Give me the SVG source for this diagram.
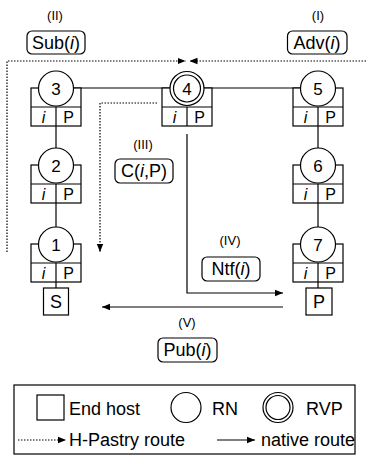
<svg xmlns="http://www.w3.org/2000/svg" width="366" height="458" viewBox="0 0 366 458">
<defs>
<style>
text{font-family:"Liberation Sans",Arial,sans-serif;fill:#000}
.ln{stroke:#000;stroke-width:1.2;fill:none}
.dot{stroke:#000;stroke-width:1.2;fill:none;stroke-dasharray:1.5 1.5}
.bx{stroke:#000;stroke-width:1.2;fill:#fff}
.num{font-size:17px;text-anchor:middle}
.cell{font-size:16px;text-anchor:middle}
.lab{font-size:18px;text-anchor:middle}
.sm{font-size:13px;text-anchor:middle}
.leg{font-size:18px}
</style>
<marker id="ah" viewBox="0 0 8 8" refX="8" refY="4" markerWidth="8" markerHeight="8" markerUnits="userSpaceOnUse" orient="auto">
<path d="M0,0.8 L8,4 L0,7.2 Z" fill="#000"/>
</marker>
<g id="nodeshape">
<rect class="bx" x="-25" y="0" width="50" height="38"/>
<line class="ln" x1="-25" y1="19" x2="25" y2="19"/>
<line class="ln" x1="0" y1="19" x2="0" y2="38"/>
<circle class="bx" cx="0" cy="0.5" r="17.5"/>
<text class="cell" x="-12.5" y="34.5" font-style="italic">i</text>
<text class="cell" x="12.5" y="34.5">P</text>
</g>
</defs>
<rect width="366" height="458" fill="#fff"/>
<g id="connectors">
<line class="ln" x1="56" y1="88" x2="318" y2="88"/>
<line class="ln" x1="56" y1="107" x2="56" y2="288"/>
<line class="ln" x1="318" y1="107" x2="318" y2="288"/>
<path class="dot" d="M7,252 V61 H185.5" marker-end="url(#ah)"/>
<path class="dot" d="M366,61 H189.5" marker-end="url(#ah)"/>
<path class="dot" d="M157,103 H100 V252" marker-end="url(#ah)"/>
<path class="ln" d="M187,134 V293 H283" marker-end="url(#ah)"/>
<path class="ln" d="M283,307 H102" marker-end="url(#ah)"/>
</g>
<g id="node3" transform="translate(56,88)"><use href="#nodeshape"/><text class="num" x="0" y="7">3</text></g>
<g id="node4" transform="translate(187,88)">
<rect class="bx" x="-25" y="0" width="50" height="38"/>
<line class="ln" x1="-25" y1="19" x2="25" y2="19"/>
<line class="ln" x1="0" y1="19" x2="0" y2="38"/>
<circle class="bx" cx="0" cy="0.5" r="17"/>
<circle class="bx" cx="0" cy="0.5" r="13.5"/>
<text class="cell" x="-12.5" y="34.5" font-style="italic">i</text>
<text class="cell" x="12.5" y="34.5">P</text>
<text class="num" x="0" y="7">4</text>
</g>
<g id="node5" transform="translate(318,88)"><use href="#nodeshape"/><text class="num" x="0" y="7">5</text></g>
<g id="node2" transform="translate(56,165)"><use href="#nodeshape"/><text class="num" x="0" y="7">2</text></g>
<g id="node6" transform="translate(318,165)"><use href="#nodeshape"/><text class="num" x="0" y="7">6</text></g>
<g id="node1" transform="translate(56,244)"><use href="#nodeshape"/><text class="num" x="0" y="7">1</text></g>
<g id="node7" transform="translate(318,244)"><use href="#nodeshape"/><text class="num" x="0" y="7">7</text></g>
<g id="hostS"><rect class="bx" x="43.5" y="288" width="25" height="27"/><text class="lab" x="56" y="308">S</text></g>
<g id="hostP"><rect class="bx" x="306" y="288" width="26" height="27"/><text class="lab" x="319" y="308">P</text></g>
<g id="labelI"><text class="sm" x="318" y="20">(I)</text><rect class="bx" x="287.5" y="31" width="59.5" height="23" rx="5"/><text class="lab" x="317" y="49">Adv(<tspan font-style="italic">i</tspan>)</text></g>
<g id="labelII"><text class="sm" x="55" y="20">(II)</text><rect class="bx" x="27" y="31" width="58" height="23" rx="5"/><text class="lab" x="56" y="49">Sub(<tspan font-style="italic">i</tspan>)</text></g>
<g id="labelIII"><text class="sm" x="143" y="149">(III)</text><rect class="bx" x="115" y="159" width="58" height="24" rx="5"/><text class="lab" x="144" y="177">C(<tspan font-style="italic">i</tspan>,P)</text></g>
<g id="labelIV"><text class="sm" x="230" y="244.5">(IV)</text><rect class="bx" x="202" y="257" width="58" height="24" rx="5"/><text class="lab" x="231" y="275">Ntf(<tspan font-style="italic">i</tspan>)</text></g>
<g id="labelV"><text class="sm" x="187" y="327">(V)</text><rect class="bx" x="158" y="338" width="59" height="24" rx="5"/><text class="lab" x="187.5" y="356">Pub(<tspan font-style="italic">i</tspan>)</text></g>
<g id="legend">
<rect class="bx" x="14" y="385" width="341" height="69"/>
<rect class="bx" x="37" y="395" width="27" height="25"/>
<text class="leg" x="69" y="415">End host</text>
<circle class="bx" cx="186" cy="407.5" r="15"/>
<text class="leg" x="212" y="415">RN</text>
<circle class="bx" cx="278" cy="407.5" r="15"/>
<circle class="bx" cx="278" cy="407.5" r="12"/>
<text class="leg" x="306" y="415">RVP</text>
<line class="dot" x1="18" y1="440" x2="66" y2="440" marker-end="url(#ah)"/>
<text class="leg" x="69" y="446">H-Pastry route</text>
<line class="ln" x1="217" y1="440" x2="255" y2="440" marker-end="url(#ah)"/>
<text class="leg" x="261" y="446">native route</text>
</g>
</svg>
